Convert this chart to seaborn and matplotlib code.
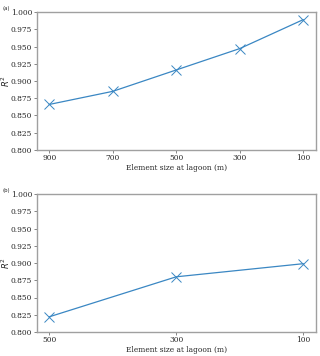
import matplotlib
matplotlib.use("Agg")
import pandas as pd
import seaborn as sns
import matplotlib.pyplot as plt

# panel (a)
sizes_a = ["900", "700", "500", "300", "100"]
r2_a = [0.866, 0.885, 0.916, 0.947, 0.989]
# panel (b)
sizes_b = ["500", "300", "100"]
r2_b = [0.822, 0.880, 0.899]

sns.set_style("ticks")
plt.rcParams["font.family"] = ["DejaVu Serif"]

fig = plt.figure(figsize=(3.2, 3.56), dpi=100)
ax_a = fig.add_axes([36.5 / 320, 1 - 150 / 356, 279.5 / 320, 138 / 356])
ax_b = fig.add_axes([36.5 / 320, 1 - 332 / 356, 279.5 / 320, 138 / 356])

for ax, sizes, r2, tag in [(ax_a, sizes_a, r2_a, "(a)"), (ax_b, sizes_b, r2_b, "(b)")]:
    df = pd.DataFrame({"size": sizes, "r2": r2})
    sns.lineplot(data=df, x="size", y="r2", ax=ax, marker="x", markersize=7.5,
                 markeredgewidth=0.7, markeredgecolor="#3a87c3",
                 color="#3a87c3", linewidth=0.9, sort=False)
    ax.set_ylim(0.8, 1.0)
    ax.set_yticks([0.8 + 0.025 * i for i in range(9)])
    ax.set_yticklabels([f"{0.8 + 0.025 * i:.3f}" for i in range(9)])
    ax.margins(x=0.05)
    ax.set_xlabel("Element size at lagoon (m)", fontsize=5.4, labelpad=1)
    ax.set_ylabel("$R^2$", fontsize=6, family="DejaVu Sans")
    ax.yaxis.set_label_coords(-0.088, 0.5)
    ax.tick_params(labelsize=5.4, length=2, width=0.5, pad=1.2, color="#555555")
    for s in ax.spines.values():
        s.set_color("#a0a0a0")
        s.set_linewidth(1.0)
    fig.text(2.5 / 320, ax.get_position().y1 + 1 / 356, tag, fontsize=3.8,
             family="DejaVu Sans", va="bottom")

fig.savefig("out.png", dpi=100)
